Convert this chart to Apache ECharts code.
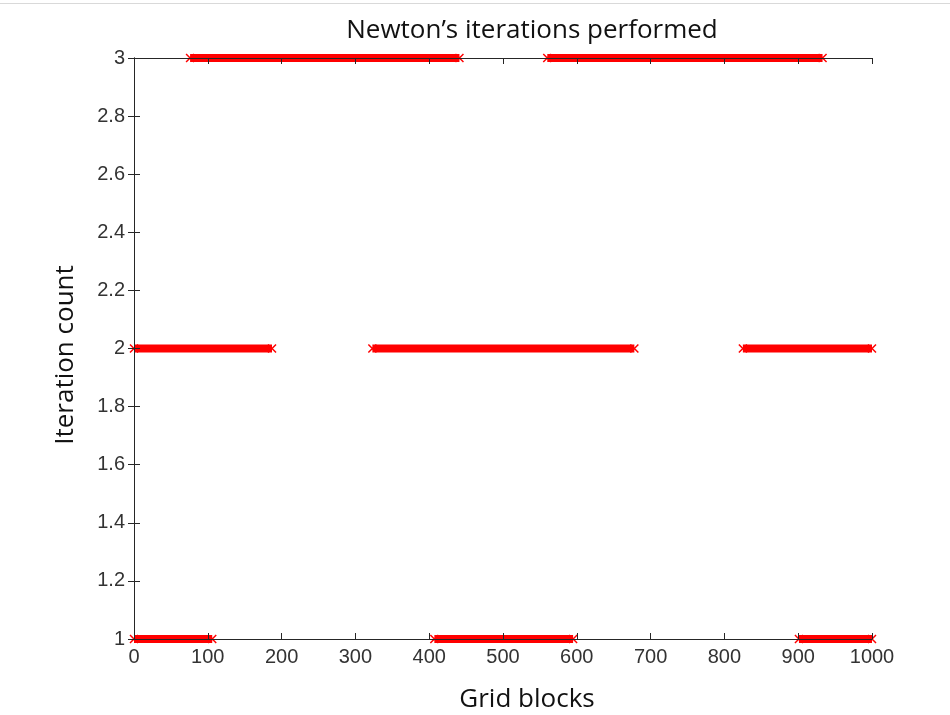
<!DOCTYPE html>
<html>
<head>
<meta charset="utf-8">
<script src="https://cdn.jsdelivr.net/npm/echarts@6/dist/echarts.min.js"></script>
<style>html,body{margin:0;padding:0;background:#fff;}#chart{width:950px;height:715px;}</style>
</head>
<body>
<div id="chart"></div>
<script>
// Runs of grid blocks (start, end) for each iteration count
const levels = [1, 2, 3];
const runStarts1 = [0, 407, 901];
const runEnds1   = [106, 595, 1000];
const runStarts2 = [0, 323, 825];
const runEnds2   = [187, 678, 1000];
const runStarts3 = [76, 560];
const runEnds3   = [441, 933];
const xTicks = [0, 100, 200, 300, 400, 500, 600, 700, 800, 900, 1000];
const yTicks = [1, 1.2, 1.4, 1.6, 1.8, 2, 2.2, 2.4, 2.6, 2.8, 3];

const starts = {1: runStarts1, 2: runStarts2, 3: runStarts3};
const ends = {1: runEnds1, 2: runEnds2, 3: runEnds3};

const crossPath = 'path://M0,0L10,10M10,0L0,10';
const series = [];
levels.forEach(lv => {
  starts[lv].forEach((s, i) => {
    series.push({
      type: 'line',
      data: [[s, lv], [ends[lv][i], lv]],
      symbol: crossPath,
      symbolSize: 8,
      showSymbol: true,
      lineStyle: {color: '#ff0000', width: 8, cap: 'butt'},
      itemStyle: {color: 'rgba(0,0,0,0)', borderColor: '#ff0000', borderWidth: 1.5},
      animation: false,
      silent: true,
      z: 2
    });
  });
});

const axisCol = '#262626';
const labelFont = {fontFamily: 'Liberation Sans', fontSize: 20, color: '#333'};
const chart = echarts.init(document.getElementById('chart'));
chart.setOption({
  animation: false,
  backgroundColor: '#fff',
  grid: {left: 134, right: 78, top: 58, bottom: 76, containLabel: false},
  xAxis: [
    {type: 'value', position: 'bottom', min: xTicks[0], max: xTicks[xTicks.length-1], interval: 100, z: 5,
     axisLine: {show: true, lineStyle: {color: axisCol, width: 1}},
     axisTick: {show: true, inside: true, length: 6, lineStyle: {color: axisCol}},
     axisLabel: Object.assign({margin: 8, formatter: v => String(v)}, labelFont),
     splitLine: {show: false}},
    {type: 'value', position: 'top', min: xTicks[0], max: xTicks[xTicks.length-1], interval: 100, z: 5,
     axisLine: {show: true, lineStyle: {color: axisCol, width: 1}},
     axisTick: {show: true, inside: true, length: 6, lineStyle: {color: axisCol}},
     axisLabel: {show: false}, splitLine: {show: false}}
  ],
  yAxis: [
    {type: 'value', position: 'left', min: yTicks[0], max: yTicks[yTicks.length-1], interval: 0.2, z: 5,
     axisLine: {show: true, lineStyle: {color: axisCol, width: 1}},
     axisTick: {show: true, inside: true, length: 6, lineStyle: {color: axisCol}},
     axisLabel: Object.assign({margin: 9, formatter: v => String(+v.toFixed(1))}, labelFont),
     splitLine: {show: false}},
    {type: 'value', position: 'right', min: yTicks[0], max: yTicks[yTicks.length-1], interval: 0.2, z: 5,
     axisLine: {show: true, lineStyle: {color: axisCol, width: 1}},
     axisTick: {show: true, inside: true, length: 6, lineStyle: {color: axisCol}},
     axisLabel: {show: false}, splitLine: {show: false}}
  ],
  series: series,
  graphic: [
    {type: 'line', shape: {x1: 0, y1: 3.5, x2: 950, y2: 3.5}, style: {stroke: '#d9d9d9', lineWidth: 1}, silent: true},
    {type: 'text', x: 532, y: 31,
     style: {text: 'Newton\u2019s iterations performed', font: '26px "Open Sans"', fill: '#111', textAlign: 'center', textVerticalAlign: 'middle'}},
    {type: 'text', x: 527, y: 700,
     style: {text: 'Grid blocks', font: '26px "Open Sans"', fill: '#111', textAlign: 'center', textVerticalAlign: 'middle'}},
    {type: 'text', x: 66, y: 355, rotation: Math.PI / 2,
     style: {text: 'Iteration count', font: '26px "Open Sans"', fill: '#111', textAlign: 'center', textVerticalAlign: 'middle'}}
  ]
});
</script>
</body>
</html>
